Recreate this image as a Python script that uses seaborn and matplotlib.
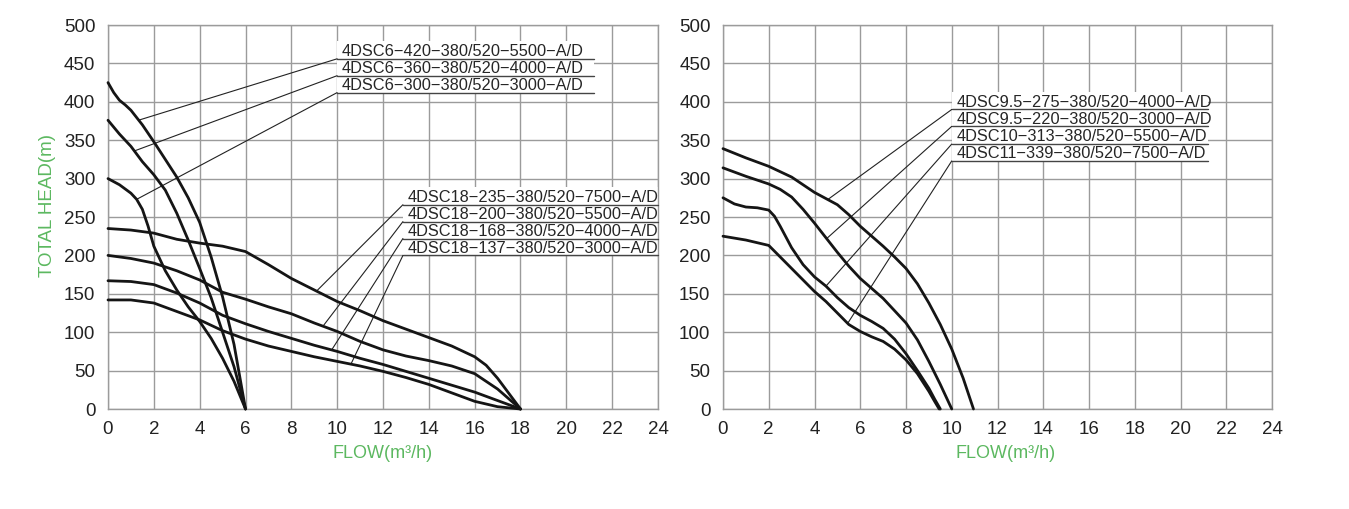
import numpy as np
import pandas as pd
import matplotlib
matplotlib.use("Agg")
import matplotlib.pyplot as plt
import seaborn as sns
from matplotlib.patches import Rectangle

# ---- left panel: 4DSC6 series (0-6 m3/h) ----
x_420 = [0, 0.25, 0.5, 0.75, 1, 1.5, 2, 2.5, 3, 3.5, 4, 4.5, 5, 5.5, 6]
y_420 = [425, 412, 402, 396, 389, 370, 348, 325, 302, 275, 243, 198, 146, 84, 0]
x_360 = [0, 0.5, 1, 1.5, 2, 2.5, 3, 3.5, 4, 4.5, 5, 5.5, 6]
y_360 = [376, 358, 342, 322, 305, 285, 255, 220, 183, 145, 100, 55, 0]
x_300 = [0, 0.5, 1, 1.25, 1.5, 1.75, 2, 2.5, 3, 3.5, 4, 4.5, 5, 5.5, 6]
y_300 = [300, 292, 281, 273, 260, 238, 212, 180, 155, 133, 114, 92, 66, 36, 0]

# ---- left panel: 4DSC18 series (0-18 m3/h) ----
x_235 = [0, 1, 2, 3, 4, 5, 6, 7, 8, 9, 10, 11, 12, 13, 14, 15, 16, 16.5, 17, 17.5, 18]
y_235 = [235, 233, 229, 221, 216, 212, 205, 188, 170, 155, 140, 128, 115, 104, 93, 82, 68, 57, 40, 20, 0]
x_18 = [0, 1, 2, 3, 4, 5, 6, 7, 8, 9, 10, 11, 12, 13, 14, 15, 16, 17, 18]
y_200 = [200, 196, 190, 180, 168, 152, 143, 133, 124, 112, 101, 88, 77, 69, 63, 56, 46, 26, 0]
y_168 = [167, 166, 162, 151, 138, 122, 111, 101, 92, 83, 75, 66, 58, 49, 40, 31, 22, 11, 0]
y_137 = [142, 142, 138, 127, 116, 102, 91, 82, 75, 68, 62, 56, 49, 41, 32, 21, 10, 3, 0]

# ---- right panel ----
x_339 = [0, 1, 2, 3, 4, 4.5, 5, 5.5, 6, 6.5, 7, 7.5, 8, 8.5, 9, 9.5, 10, 10.5, 10.95]
y_339 = [339, 327, 316, 302, 282, 274, 266, 253, 238, 225, 212, 198, 183, 163, 138, 110, 78, 40, 0]
x_313 = [0, 1, 2, 2.5, 3, 3.5, 4, 4.5, 5, 5.5, 6, 6.5, 7, 7.5, 8, 8.5, 9, 9.5, 10]
y_313 = [314, 303, 293, 286, 276, 260, 242, 223, 204, 186, 170, 157, 144, 128, 112, 90, 62, 32, 0]
x_275 = [0, 0.5, 1, 1.5, 2, 2.25, 2.5, 3, 3.5, 4, 4.5, 5, 5.5, 6, 6.5, 7, 7.5, 8, 8.5, 9, 9.25, 9.5]
y_275 = [275, 267, 263, 262, 259, 251, 238, 210, 188, 172, 160, 145, 132, 122, 114, 105, 91, 72, 50, 27, 13, 0]
x_225 = [0, 1, 2, 2.5, 3, 3.5, 4, 4.5, 5, 5.5, 6, 6.5, 7, 7.5, 8, 8.5, 9, 9.25, 9.45]
y_225 = [225, 220, 213, 198, 183, 168, 153, 140, 125, 110, 101, 94, 88, 78, 64, 46, 23, 10, 0]

# label texts
left_top_labels = ["4DSC6−420−380/520−5500−A/D",
                   "4DSC6−360−380/520−4000−A/D",
                   "4DSC6−300−380/520−3000−A/D"]
left_low_labels = ["4DSC18−235−380/520−7500−A/D",
                   "4DSC18−200−380/520−5500−A/D",
                   "4DSC18−168−380/520−4000−A/D",
                   "4DSC18−137−380/520−3000−A/D"]
right_labels = ["4DSC9.5−275−380/520−4000−A/D",
                "4DSC9.5−220−380/520−3000−A/D",
                "4DSC10−313−380/520−5500−A/D",
                "4DSC11−339−380/520−7500−A/D"]

# leader line targets (flow on the curve each label points to)
left_top_targets = [1.34, 1.15, 1.25]
left_low_targets = [9.1, 9.38, 9.76, 10.6]
right_targets = [4.58, 4.53, 4.5, 5.45]

GREEN = "#5cb860"
GRID = "#9b9b9b"


def make_df(curves):
    frames = []
    for name, xs, ys in curves:
        frames.append(pd.DataFrame({"flow": xs, "head": ys, "model": name}))
    return pd.concat(frames, ignore_index=True)


def style_axis(ax):
    ax.set_xlim(0, 24)
    ax.set_ylim(0, 500)
    ax.set_xticks(np.arange(0, 25, 2))
    ax.set_yticks(np.arange(0, 501, 50))
    ax.grid(True, color=GRID, linewidth=1.0)
    for s in ax.spines.values():
        s.set_visible(True)
        s.set_color(GRID)
        s.set_linewidth(1.0)
    ax.tick_params(axis="both", direction="out", length=6, width=1.0,
                   color=GRID, labelsize=13.5, labelcolor="#222222", pad=3)
    ax.set_axisbelow(True)


def draw_labels(ax, labels, line_y, x0, x1, targets, curves):
    top = line_y[0] + 23
    ax.add_patch(Rectangle((x0, line_y[-1]), x1 - x0, top - line_y[-1],
                           facecolor="white", edgecolor="none", zorder=2))
    for lab, ly, tx, (cx, cy) in zip(labels, line_y, targets, curves):
        ax.text(x0 + 0.2, ly + 3.5, lab, fontsize=11.8, color="#262626",
                va="baseline", ha="left", zorder=3)
        ax.plot([x0, x1], [ly, ly], color="#444444", lw=1.0, zorder=3,
                clip_on=False)
        ty = np.interp(tx, cx, cy)
        ax.plot([x0, tx], [ly, ty], color="#222222", lw=0.8, zorder=3)


sns.set_theme(style="white")
plt.rcParams["font.family"] = ["Liberation Sans", "DejaVu Sans"]

fig = plt.figure(figsize=(13.49, 5.09), dpi=100)
ax1 = fig.add_axes([108 / 1349, 100 / 509, 550 / 1349, 384 / 509])
ax2 = fig.add_axes([723 / 1349, 100 / 509, 549 / 1349, 384 / 509])

left_curves = [("420", x_420, y_420), ("360", x_360, y_360), ("300", x_300, y_300),
               ("235", x_235, y_235), ("200", x_18, y_200), ("168", x_18, y_168),
               ("137", x_18, y_137)]
right_curves = [("339", x_339, y_339), ("313", x_313, y_313),
                ("275", x_275, y_275), ("225", x_225, y_225)]

for ax, curves in [(ax1, left_curves), (ax2, right_curves)]:
    df = make_df(curves)
    sns.lineplot(data=df, x="flow", y="head", units="model", estimator=None,
                 color="#151515", linewidth=2.0, sort=False, ax=ax, legend=False)
    for line in ax.lines:
        line.set_clip_on(False)
        line.set_zorder(4)
        line.set_solid_joinstyle("round")
    style_axis(ax)
    ax.set_xlabel("FLOW(m³/h)", color=GREEN, fontsize=13)
    ax.set_ylabel("")

ax1.xaxis.set_label_coords(0.5, -0.095)
ax2.xaxis.set_label_coords(0.514, -0.095)
ax1.set_ylabel("TOTAL HEAD(m)", color=GREEN, fontsize=13.5)
ax1.yaxis.set_label_coords(-0.095, 0.53)

draw_labels(ax1, left_top_labels, [456, 434, 412], 10.0, 21.2, left_top_targets,
            [(x_420, y_420), (x_360, y_360), (x_300, y_300)])
draw_labels(ax1, left_low_labels, [266, 244, 222, 200], 12.87, 24.0, left_low_targets,
            [(x_235, y_235), (x_18, y_200), (x_18, y_168), (x_18, y_137)])
draw_labels(ax2, right_labels, [390, 368, 345, 323], 10.0, 21.2, right_targets,
            [(x_339, y_339), (x_313, y_313), (x_275, y_275), (x_225, y_225)])

fig.savefig("out.png", dpi=100, facecolor="white")
